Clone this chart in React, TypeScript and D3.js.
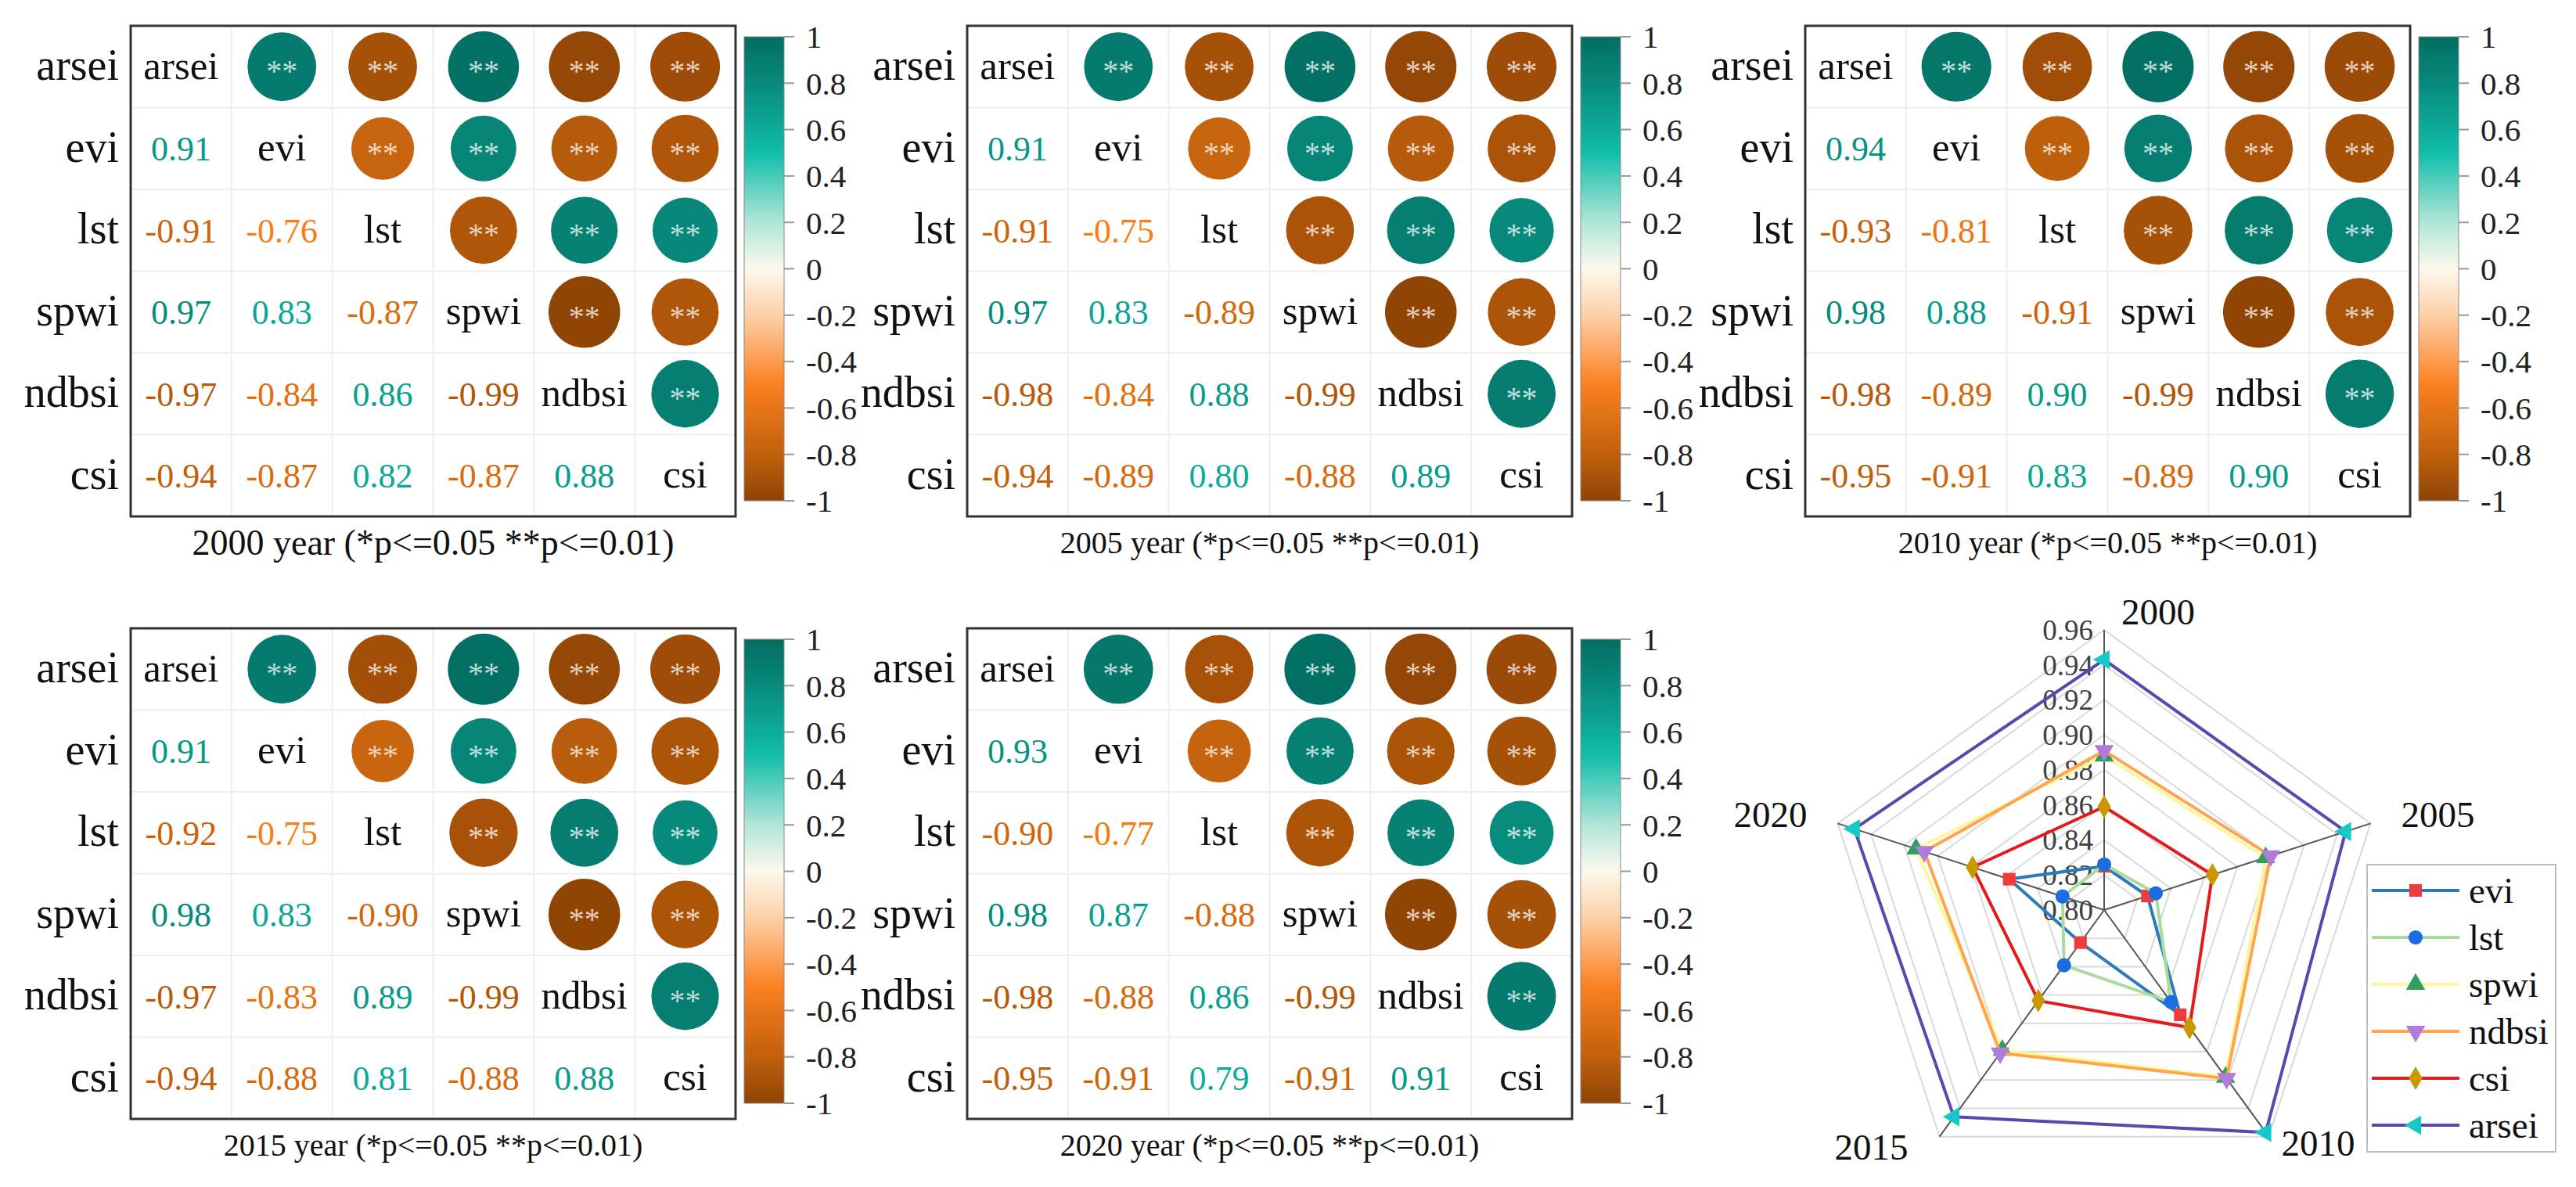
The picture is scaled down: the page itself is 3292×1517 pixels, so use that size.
import * as d3 from 'd3';

// correlation matrices (lower triangle, row i vs columns 0..i-1)
const VARS = ['arsei', 'evi', 'lst', 'spwi', 'ndbsi', 'csi'];
const R2000 = [[0.91], [-0.91, -0.76], [0.97, 0.83, -0.87], [-0.97, -0.84, 0.86, -0.99], [-0.94, -0.87, 0.82, -0.87, 0.88]];
const R2005 = [[0.91], [-0.91, -0.75], [0.97, 0.83, -0.89], [-0.98, -0.84, 0.88, -0.99], [-0.94, -0.89, 0.80, -0.88, 0.89]];
const R2010 = [[0.94], [-0.93, -0.81], [0.98, 0.88, -0.91], [-0.98, -0.89, 0.90, -0.99], [-0.95, -0.91, 0.83, -0.89, 0.90]];
const R2015 = [[0.91], [-0.92, -0.75], [0.98, 0.83, -0.90], [-0.97, -0.83, 0.89, -0.99], [-0.94, -0.88, 0.81, -0.88, 0.88]];
const R2020 = [[0.93], [-0.90, -0.77], [0.98, 0.87, -0.88], [-0.98, -0.88, 0.86, -0.99], [-0.95, -0.91, 0.79, -0.91, 0.91]];
const PANEL_YEARS = ['2000', '2005', '2010', '2015', '2020'];
const PANEL_DATA = [R2000, R2005, R2010, R2015, R2020];
const SIG_LABEL = '**';
const CB_TICKS = [1, 0.8, 0.6, 0.4, 0.2, 0, -0.2, -0.4, -0.6, -0.8, -1];

// radar chart
const RADAR_YEARS = ['2000', '2005', '2010', '2015', '2020'];
const RADAR_TICKS = [0.8, 0.82, 0.84, 0.86, 0.88, 0.9, 0.92, 0.94, 0.96];
const EVI = [0.825, 0.826, 0.874, 0.823, 0.857];
const LST = [0.826, 0.831, 0.865, 0.839, 0.825];
const SPWI = [0.888, 0.897, 0.918, 0.899, 0.913];
const NDBSI = [0.891, 0.9, 0.919, 0.901, 0.908];
const CSI = [0.859, 0.865, 0.883, 0.864, 0.879];
const ARSEI = [0.943, 0.945, 0.957, 0.946, 0.95];

const FONT = '"Liberation Serif", "Times New Roman", serif';

const colorScale = d3
  .scaleLinear<string>()
  .domain([-1, -0.8, -0.5, -0.2, 0, 0.2, 0.5, 0.8, 1])
  .range(['#8f4405', '#c0600c', '#fb8020', '#fdd0a8', '#fdf8ec', '#b0e6d8', '#11bda9', '#078a7c', '#046d62'])
  .interpolate(d3.interpolateRgb);

const PANELS = [
  { left: 167, top: 33, titleSize: 46 },
  { left: 1236, top: 33, titleSize: 40 },
  { left: 2307, top: 33, titleSize: 40 },
  { left: 167, top: 803, titleSize: 40 },
  { left: 1236, top: 803, titleSize: 40 },
];

const MW = 773;
const MH = 627;

function corr(data: number[][], i: number, j: number) {
  return i > j ? data[i - 1][j] : data[j - 1][i];
}

function Matrix({ idx }: { idx: number }) {
  const p = PANELS[idx];
  const data = PANEL_DATA[idx];
  const x = d3.scaleBand<string>().domain(VARS).range([p.left, p.left + MW]);
  const y = d3.scaleBand<string>().domain(VARS).range([p.top, p.top + MH]);
  const rSize = d3.scaleSqrt().domain([0, 1]).range([0, 46]);
  const cbX = p.left + MW + 11;
  const cbW = 51;
  const cbY = d3.scaleLinear().domain([1, -1]).range([p.top + 14, p.top + 607]);
  const gid = `cb${idx}`;
  const stops = d3.range(-1, 1.001, 0.05);

  return (
    <g>
      <defs>
        <linearGradient id={gid} x1="0" y1="1" x2="0" y2="0">
          {stops.map((s) => (
            <stop key={s} offset={(s + 1) / 2} stopColor={colorScale(s)} />
          ))}
        </linearGradient>
      </defs>
      {/* cell grid */}
      {VARS.map((v, k) =>
        k > 0 ? (
          <g key={`g${v}`}>
            <line x1={x(v)} x2={x(v)} y1={p.top} y2={p.top + MH} stroke="#eeeeee" strokeWidth={2} />
            <line x1={p.left} x2={p.left + MW} y1={y(v)} y2={y(v)} stroke="#eeeeee" strokeWidth={2} />
          </g>
        ) : null
      )}
      {VARS.map((rv, i) =>
        VARS.map((cv, j) => {
          const cx = (x(cv) as number) + x.bandwidth() / 2;
          const cy = (y(rv) as number) + y.bandwidth() / 2;
          if (i === j) {
            return (
              <text key={`${i}-${j}`} x={cx} y={cy} dy="0.3em" textAnchor="middle" fontSize={51} fill="#111">
                {rv}
              </text>
            );
          }
          const v = corr(data, i, j);
          if (i > j) {
            const c = d3.color(colorScale(v))!.brighter(0.6).formatHex();
            return (
              <text key={`${i}-${j}`} x={cx} y={cy} dy="0.35em" textAnchor="middle" fontSize={44} fill={c}>
                {v.toFixed(2)}
              </text>
            );
          }
          return (
            <g key={`${i}-${j}`}>
              <circle cx={cx} cy={cy} r={rSize(Math.abs(v))} fill={colorScale(v)} />
              <text x={cx} y={cy + 19} textAnchor="middle" fontSize={40} fill="#ffffff" fillOpacity={0.75}>
                {SIG_LABEL}
              </text>
            </g>
          );
        })
      )}
      <rect x={p.left} y={p.top} width={MW} height={MH} fill="none" stroke="#333" strokeWidth={3} />
      {VARS.map((v) => (
        <text
          key={`r${v}`}
          x={p.left - 15}
          y={(y(v) as number) + y.bandwidth() / 2}
          dy="0.3em"
          textAnchor="end"
          fontSize={56}
          fill="#111"
        >
          {v}
        </text>
      ))}
      {/* colorbar */}
      <rect x={cbX} y={cbY(1)} width={cbW} height={cbY(-1) - cbY(1)} fill={`url(#${gid})`} stroke="#8a8a8a" strokeWidth={1} />
      {CB_TICKS.map((t) => (
        <g key={`t${t}`}>
          <line x1={cbX + cbW} x2={cbX + cbW + 13} y1={cbY(t)} y2={cbY(t)} stroke="#999" strokeWidth={2} />
          <text x={cbX + cbW + 28} y={cbY(t)} dy="0.35em" fontSize={41} fill="#222">
            {String(t)}
          </text>
        </g>
      ))}
      <text x={p.left + MW / 2} y={p.top + MH + 33} dy="0.35em" textAnchor="middle" fontSize={p.titleSize} fill="#111">
        {`${PANEL_YEARS[idx]} year (*p<=0.05 **p<=0.01)`}
      </text>
    </g>
  );
}

const SERIES = [
  { name: 'evi', values: EVI, line: '#2b7bba', marker: '#ee3b3b', shape: d3.symbolSquare, rot: 0 },
  { name: 'lst', values: LST, line: '#a9dc9c', marker: '#1c6ee0', shape: d3.symbolCircle, rot: 0 },
  { name: 'spwi', values: SPWI, line: '#fff7a0', marker: '#2ea05c', shape: d3.symbolTriangle, rot: 0 },
  { name: 'ndbsi', values: NDBSI, line: '#ffa44f', marker: '#b27ad9', shape: d3.symbolTriangle, rot: 180 },
  { name: 'csi', values: CSI, line: '#e41a1c', marker: '#c99700', shape: d3.symbolDiamond, rot: 0 },
  { name: 'arsei', values: ARSEI, line: '#5b47ad', marker: '#15c9c9', shape: d3.symbolTriangle, rot: -90 },
];

const RCX = 2689;
const RCY = 1163;
const RR = 358;

function Radar() {
  const r = d3.scaleLinear().domain([0.8, 0.96]).range([0, RR]);
  const ang = (i: number) => (i * 2 * Math.PI) / RADAR_YEARS.length;
  const pt = (i: number, rad: number): [number, number] => [RCX + rad * Math.sin(ang(i)), RCY - rad * Math.cos(ang(i))];
  const radial = d3
    .lineRadial<number>()
    .angle((_, i) => ang(i))
    .radius((d) => r(d))
    .curve(d3.curveLinearClosed);
  const labelOffsets = [
    { dx: 22, dy: -7, anchor: 'start' },
    { dx: 39, dy: 5, anchor: 'start' },
    { dx: 16, dy: 24, anchor: 'start' },
    { dx: -40, dy: 29, anchor: 'end' },
    { dx: -39, dy: 5, anchor: 'end' },
  ];
  const sym = (s: (typeof SERIES)[number], size: number) => d3.symbol().type(s.shape).size(size)()!;

  return (
    <g>
      {RADAR_TICKS.slice(1).map((t) => (
        <path
          key={`grid${t}`}
          d={radial(RADAR_YEARS.map(() => t)) as string}
          transform={`translate(${RCX},${RCY})`}
          fill="none"
          stroke="#d9d9d9"
          strokeWidth={2}
        />
      ))}
      {RADAR_YEARS.map((yr, i) => {
        const [ex, ey] = pt(i, RR);
        return <line key={`ax${yr}`} x1={RCX} y1={RCY} x2={ex} y2={ey} stroke="#555" strokeWidth={2} />;
      })}
      {RADAR_TICKS.map((t) => (
        <text key={`tk${t}`} x={RCX - 14} y={RCY - r(t)} dy="0.35em" textAnchor="end" fontSize={37} fill="#404040">
          {t.toFixed(2)}
        </text>
      ))}
      {SERIES.map((s) => (
        <g key={s.name}>
          <path
            d={radial(s.values) as string}
            transform={`translate(${RCX},${RCY})`}
            fill="none"
            stroke={s.line}
            strokeWidth={4}
            strokeLinejoin="round"
          />
          {s.values.map((v, i) => {
            const [px, py] = pt(i, r(v));
            return (
              <path
                key={`${s.name}${i}`}
                d={sym(s, 260)}
                transform={`translate(${px},${py}) rotate(${s.rot})`}
                fill={s.marker}
              />
            );
          })}
        </g>
      ))}
      {RADAR_YEARS.map((yr, i) => {
        const [ex, ey] = pt(i, RR);
        const o = labelOffsets[i];
        return (
          <text key={`lb${yr}`} x={ex + o.dx} y={ey + o.dy} textAnchor={o.anchor} fontSize={47} fill="#111">
            {yr}
          </text>
        );
      })}
      {/* legend */}
      <rect x={3025} y={1105} width={241} height={367} fill="#fff" stroke="#bdbdbd" strokeWidth={2} />
      {SERIES.map((s, k) => {
        const ly = 1138 + k * 60;
        return (
          <g key={`lg${s.name}`}>
            <line x1={3031} x2={3143} y1={ly} y2={ly} stroke={s.line} strokeWidth={4} />
            <path d={sym(s, 260)} transform={`translate(3087,${ly}) rotate(${s.rot})`} fill={s.marker} />
            <text x={3155} y={ly} dy="0.33em" fontSize={47} fill="#111">
              {s.name}
            </text>
          </g>
        );
      })}
    </g>
  );
}

export default function App() {
  return (
    <svg
      width={3292}
      height={1517}
      viewBox="0 0 3292 1517"
      style={{ position: 'absolute', left: 0, top: 0, background: '#fff' }}
      fontFamily={FONT}
    >
      <rect width={3292} height={1517} fill="#fff" />
      {PANELS.map((_, i) => (
        <Matrix key={i} idx={i} />
      ))}
      <Radar />
    </svg>
  );
}
